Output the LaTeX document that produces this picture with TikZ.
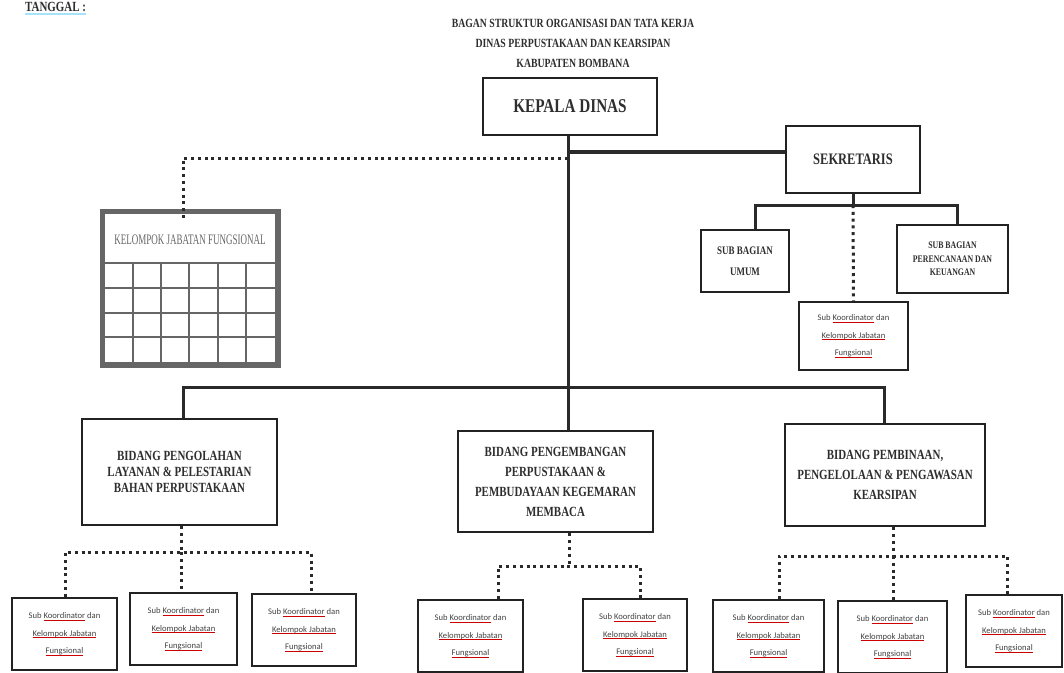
\documentclass[tikz,border=0pt]{standalone}
\usepackage{fontspec}
\newfontfamily\cond[FakeStretch=0.78]{Liberation Serif}
\newfontfamily\narrow[FakeStretch=0.62]{Liberation Serif}
\newfontfamily\calib{Carlito}
\newsavebox\sqbox
\newcommand\sq[1]{\sbox\sqbox{#1}\leavevmode\rlap{\textcolor{red!80!black}{\rule[-1.8pt]{\wd\sqbox}{0.6pt}}}\usebox\sqbox}
\definecolor{boxc}{HTML}{222222}
\definecolor{txtc}{HTML}{2E2E2E}
\definecolor{linec}{HTML}{2A2A2A}
\definecolor{kjfc}{HTML}{666666}
\tikzset{
  box/.style={draw=boxc, line width=2.6pt, fill=white, inner sep=0pt, align=center, text=txtc},
  bid/.style={box, font=\cond\bfseries\fontsize{14}{20}\selectfont},
  skbox/.style={draw=boxc, line width=2.6pt, fill=white, inner sep=0pt, align=center, text=txtc!90,
     font=\calib\fontsize{8.6}{17.5}\selectfont, minimum height=72},
  conn/.style={line width=3pt, draw=linec},
  dots/.style={line width=3pt, draw=linec, dash pattern=on 3pt off 3.8pt},
  ttl/.style={font=\cond\bfseries\fontsize{12.5}{14}\selectfont, text=txtc, inner sep=0pt},
  gridl/.style={draw=kjfc, line width=1.2pt}
}
\newcommand\skt{Sub \sq{Koordinator} dan\\\sq{Kelompok Jabatan}\\\sq{Fungsional}}
\begin{document}
\begin{tikzpicture}[x=1pt,y=-1pt]
\useasboundingbox (0,0) rectangle (1064,672);
\fill[white] (0,0) rectangle (1064,672);

% header texts
\node[ttl, anchor=west, font=\cond\bfseries\fontsize{14}{16}\selectfont] (tg) at (25,7) {TANGGAL :};
\draw[cyan!35, line width=1.6pt] ([yshift=-2pt]tg.south west) -- ([yshift=-2pt]tg.south east);
\node[ttl] (t1) at (573,23) {BAGAN STRUKTUR ORGANISASI DAN TATA KERJA};
\node[ttl] (t2) at (573,43) {DINAS PERPUSTAKAAN DAN KEARSIPAN};
\node[ttl] (t3) at (573,63) {KABUPATEN BOMBANA};

% main boxes
\node[box, minimum width=174, minimum height=57, font=\cond\bfseries\fontsize{19.5}{22}\selectfont] (kepala) at (570,106.5) {KEPALA DINAS};
\node[box, minimum width=134, minimum height=67, font=\cond\bfseries\fontsize{16}{19}\selectfont] (sekr) at (853,159.5) {SEKRETARIS};
\node[box, minimum width=88, minimum height=62, font=\cond\bfseries\fontsize{11.5}{21}\selectfont] (umum) at (745,261) {SUB BAGIAN\\UMUM};
\node[box, minimum width=111, minimum height=68, font=\cond\bfseries\fontsize{10}{13.5}\selectfont] (renc) at (952.5,259) {SUB BAGIAN\\PERENCANAAN DAN\\KEUANGAN};
\node[skbox, minimum width=109, minimum height=68] (subsek) at (853.5,336) {\skt};

% kelompok jabatan fungsional table
\node[draw=kjfc, line width=5pt, fill=white, minimum width=176, minimum height=154, inner sep=0pt] (kjf) at (190,288) {};
\draw[gridl, line width=0.8pt] ([shift={(5,5)}]kjf.north west) rectangle ([shift={(-5,-5)}]kjf.south east);
\node[font=\narrow\fontsize{14.5}{16}\selectfont, text=kjfc, inner sep=0pt] (kjft) at (190,240) {KELOMPOK JABATAN FUNGSIONAL};
\draw[gridl, line width=2.4pt] (105,263) -- (275,263);
\foreach \yy in {288,313,337} \draw[gridl] (105,\yy) -- (275,\yy);
\foreach \xx in {133,161,189,218,246} \draw[gridl] (\xx,263) -- (\xx,362);

% bidang boxes
\node[bid, minimum width=195, minimum height=106, font=\cond\bfseries\fontsize{14}{16}\selectfont] (b1) at (179.5,472) {BIDANG PENGOLAHAN\\LAYANAN \& PELESTARIAN\\BAHAN PERPUSTAKAAN};
\node[bid, minimum width=195, minimum height=101] (b2) at (555.5,481.5) {BIDANG PENGEMBANGAN\\PERPUSTAKAAN \&\\PEMBUDAYAAN KEGEMARAN\\MEMBACA};
\node[bid, minimum width=200, minimum height=102] (b3) at (885,475) {BIDANG PEMBINAAN,\\PENGELOLAAN \& PENGAWASAN\\KEARSIPAN};

% sub koordinator boxes
\node[skbox, minimum width=105] (s11) at (64.5,634) {\skt};
\node[skbox, minimum width=107] (s12) at (183.5,629) {\skt};
\node[skbox, minimum width=104] (s13) at (304,630) {\skt};
\node[skbox, minimum width=105] (s21) at (470.5,636) {\skt};
\node[skbox, minimum width=104] (s22) at (635,635) {\skt};
\node[skbox, minimum width=111] (s31) at (768.5,636) {\skt};
\node[skbox, minimum width=109] (s32) at (892.5,637) {\skt};
\node[skbox, minimum width=96] (s33) at (1014,631) {\skt};

% coordinates
\coordinate (ks) at (568,152);
\coordinate (kd) at (568,158);
\coordinate (kdc) at (183,158);
\coordinate (kb) at (568,387);
\coordinate (j1) at (183,387);
\coordinate (j3) at (884,387);
\coordinate (sb) at (853,205);
\coordinate (sbl) at (755,205);
\coordinate (sbr) at (957,205);
\coordinate (r1) at (181,552);
\coordinate (r1l) at (65,552);
\coordinate (r1r) at (311,552);
\coordinate (r2) at (569,566);
\coordinate (r2l) at (498,566);
\coordinate (r2r) at (640,566);
\coordinate (r3) at (893,556);
\coordinate (r3l) at (779,556);
\coordinate (r3r) at (1007,556);

% solid connectors
\draw[conn] (kepala.south -| kb) -- (kb);
\draw[conn, line width=4.5pt] (ks) -- (sekr.west |- ks);
\draw[conn] (sekr.south) -- (sb);
\draw[conn] (sbl |- umum.north) -- (sbl) -- (sbr) -- (sbr |- renc.north);
\draw[conn] (j1 |- b1.north) -- (j1) -- (j3) -- (j3 |- b3.north);
\draw[conn] (kb) -- (kb |- b2.north);

% dotted connectors
\draw[dots] (kd) -- (kdc) -- ([yshift=-10pt]kdc |- kjf.north);
\draw[dots] (sb) -- (subsek.north);
\draw[dots] (b1.south -| r1) -- (r1);
\draw[dots] (r1l |- s11.north) -- (r1l) -- (r1r) -- (r1r |- s13.north);
\draw[dots] (r1) -- (r1 |- s12.north);
\draw[dots] (b2.south -| r2) -- (r2);
\draw[dots] (r2l |- s21.north) -- (r2l) -- (r2r) -- (r2r |- s22.north);
\draw[dots] (b3.south -| r3) -- (r3);
\draw[dots] (r3l |- s31.north) -- (r3l) -- (r3r) -- (r3r |- s33.north);
\draw[dots] (r3) -- (r3 |- s32.north);
\end{tikzpicture}
\end{document}
